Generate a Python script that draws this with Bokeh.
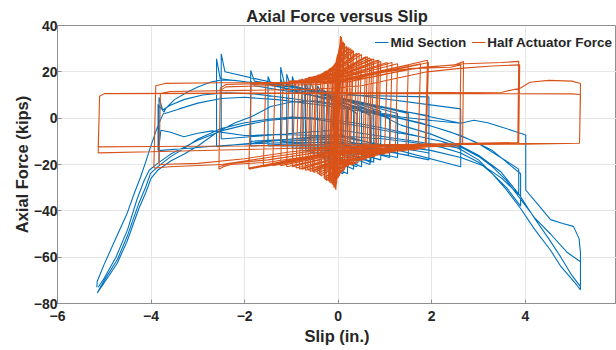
import math
from bokeh.plotting import figure
from bokeh.models import FixedTicker, Range1d
from bokeh.embed import file_html
from bokeh.resources import INLINE

nan = float("nan")

# ---------------- data ----------------
x_ticks = [-6, -4, -2, 0, 2, 4]
y_ticks = [-80, -60, -40, -20, 0, 20, 40]

# Half Actuator Force: small / medium cycles, one row per cycle
act_xl   = [-0.05, -0.06, -0.07, -0.09, -0.11, -0.13, -0.14, -0.17, -0.19, -0.21, -0.25, -0.28, -0.3, -0.37, -0.4, -0.44, -0.52, -0.55, -0.6, -0.65, -0.7, -0.77, -0.83, -0.9, -0.98, -1.1, -1.23, -1.4, -1.6, -1.91, -1.91]
act_xr   = [0.05, 0.07, 0.06, 0.08, 0.11, 0.13, 0.14, 0.18, 0.21, 0.23, 0.27, 0.3, 0.33, 0.4, 0.45, 0.5, 0.59, 0.63, 0.68, 0.72, 0.76, 0.84, 0.87, 0.91, 1.05, 1.15, 1.27, 1.5, 1.76, 1.91, 1.93]
act_d    = [0.09, 0.1, 0.1, 0.1, 0.1, 0.1, 0.1, 0.1, 0.09, 0.09, 0.09, 0.08, 0.08, 0.08, 0.07, 0.07, 0.07, 0.07, 0.07, 0.06, 0.06, 0.06, 0.06, 0.06, 0.06, 0.05, 0.05, 0.05, 0.05, 0.05, 0.05]
act_botL = [-31, -30.5, -30, -30, -29, -28.5, -28, -28, -27.5, -27, -27, -26.5, -26, -25, -24.5, -24, -23.5, -23, -23, -22.5, -22.5, -22, -22, -21.5, -21, -21, -20.5, -20.5, -21, -22, -21.5]
act_topL = [33, 32, 31, 29, 27, 26, 25, 23, 22.5, 22, 21, 21, 20.5, 20, 19.5, 19, 18.5, 18, 18, 17.5, 17.5, 17, 16.5, 16.5, 16, 16, 15.5, 15, 15, 15, 14.5]
act_topM = [nan, nan, nan, nan, nan, 28, 27, 26, 25.5, 25, 24, 23.5, 23, 22, 21.5, 21, 20, 19.5, 19.5, 19, 19, 18.5, 18, 18, 17.5, 17, 17, 16.5, 16, 16, 15.5]
act_topR = [35.5, 35, 35, 34, 33, 32.5, 32, 31, 30.5, 30.5, 30, 29.5, 29, 28, 28, 27.5, 26.5, 26.5, 26, 25.5, 25.5, 25, 25, 24.5, 24, 24, 23.5, 23, 23.5, 25, 24]
act_botR = [-28, -27.5, -27, -26, -25, -24.5, -24, -23, -22.5, -22, -21, -20.5, -20, -20, -19.5, -19, -18, -18, -17.5, -17, -17, -16.5, -16, -16, -15.5, -15, -14.5, -14, -13.5, -13, -12.5]
act_botM = [nan, nan, nan, nan, nan, -25.5, -25, -24, -23.5, -23, -22, -21.5, -21, -20, -19.5, -19, -19, -18.5, -18, -18, -18, -17, -17, -17, -16, -16, -15.5, -15, -15, -14.5, -14]

# Half Actuator Force: large cycles traced point by point (slip, force)
act_big1 = [(-2.55, -22), (-2.52, 13), (-2.4, 14.5), (-1.5, 15), (-0.5, 15.5), (0.3, 17), (1.0, 20), (1.6, 21.5),
            (2.4, 22), (2.62, 23), (2.6, -12), (1.5, -12.5), (0.5, -13.5), (-0.5, -16), (-1.5, -19), (-2.3, -20),
            (-2.45, -21), (-2.55, -22)]
act_big2 = [(-2.55, -21), (-2.52, 12), (-2.4, 13.5), (-1.5, 14), (-0.5, 14.5), (0.3, 16), (1.0, 19), (1.8, 22),
            (2.5, 23), (2.68, 24.5), (2.66, -11.5), (1.5, -12), (0.5, -13), (-0.5, -15), (-1.5, -18), (-2.3, -19.5),
            (-2.55, -21)]
act_big3 = [(-3.94, -21.5), (-3.9, 14), (-3.7, 15), (-2.5, 15.3), (-1, 15.5), (0, 16), (0.8, 18), (1.5, 21),
            (2.2, 22.5), (2.7, 23.5), (3.5, 24), (3.86, 24.5), (3.84, -11), (2, -11.5), (0.5, -12.5), (-0.5, -14),
            (-1.5, -17), (-2.5, -20), (-3.6, -21), (-3.94, -21.5)]
act_big4 = [(-3.83, -20), (-3.8, 10.5), (-3.6, 11.5), (-2, 12), (-0.5, 12.5), (0.5, 14), (1.2, 17), (1.9, 20),
            (2.6, 21.5), (3.3, 22.5), (3.88, 23), (3.86, -10.5), (2.5, -11), (1, -11.5), (0, -12.5), (-1, -14.5),
            (-2, -17.5), (-3, -19.5), (-3.83, -20)]
act_big5 = [(-5.13, -15), (-5.1, 9.5), (-5.0, 10.6), (-2, 10.8), (1, 11), (3.5, 11.2), (3.9, 13), (4.1, 15.5),
            (4.5, 16.3), (5.0, 16), (5.18, 15), (5.16, -10.8), (4, -11.2), (2, -11.5), (0, -12.5), (-2, -13.5),
            (-4, -14.5), (-5.13, -15)]
act_big6 = [(-5.13, -12.4), (-5.1, 9.5), (-5.0, 10.6), (-2, 10.7), (1, 10.6), (3, 10.6), (5.0, 10.5), (5.18, 10.2),
            (5.16, -10.8), (4, -11), (2, -11.3), (0, -11.5), (-2, -12), (-4, -12.2), (-5.13, -12.4)]

# Mid Section: smaller cycles, one row per cycle
mid_xl   = [-0.1, -0.2, -0.3, -0.35, -0.44, -0.6, -0.7, -0.77, -0.98, -1.1, -1.23, -1.23, -1.5, -1.87, -1.87, -2.6, -2.5]
mid_xr   = [0.1, 0.2, 0.33, 0.4, 0.5, 0.68, 0.7, 0.76, 0.91, 1.1, 1.27, 1.27, 1.5, 1.94, 1.94, 2.62, 2.62]
mid_botL = [-22, -20, -18, -17, -16, -15, -14, -14, -13, -12, -12, -10, -12, -12, -10, -12.3, -9]
mid_peak = [8, 10, 12, 13, 14, 16, 15, 17, 18, 19, 22, 17, 18, 20.6, 16, 25.6, 27.8]
mid_topL = [6, 8, 9, 10, 11, 12, 12, 13, 13, 14, 15, 13, 14, 16, 14, 17, 20]
mid_topM = [5, 6, 7, 7, 8, 8, 8, 9, 9, 9, 9, 7, 9, 10, 8, 11, 9]
mid_topR = [4, 4, 3, 2, 3, 2, 1, 4, 3, 0, 2, 0, 2, 9.2, 1, 4, -2.2]
mid_botR = [-24, -24, -22, -21, -21, -20, -19, -19, -18, -17, -17, -15, -16, -18, -15, -21, -13]
mid_botM = [-23, -22, -19, -18, -17, -15, -14, -14, -13, -11, -12, -9, -11, -10, -8, -7, -5]

# Mid Section: large cycles traced point by point (slip, force)
mid_c14 = [(-3.83, -19.5), (-3.83, 9), (-3.75, 3.5), (-3.6, 5.5), (-3.3, 8), (-2.9, 10), (-2.4, 11), (-1.8, 10.5),
           (-1.0, 8.5), (0, 5.5), (1.0, 1.5), (1.76, -2), (2.4, -6), (2.9, -10), (3.3, -14), (3.6, -19), (3.9, -24),
           (3.9, -38), (3.6, -30), (3.3, -24), (3.0, -19), (2.62, -15), (2.2, -12.5), (1.6, -10.5), (1.0, -9),
           (0.3, -8), (-0.5, -7.5), (-1.2, -7), (-2.0, -7.5), (-2.7, -5.5), (-3.0, -6.5), (-3.3, -8), (-3.6, -6),
           (-3.79, -5.2), (-3.83, -12)]
mid_c15 = [(-3.85, -14), (-3.85, 6), (-3.7, 2), (-3.4, 4), (-3.0, 6.5), (-2.5, 8.5), (-2.0, 9), (-1.3, 8),
           (-0.5, 6), (0.5, 3), (1.3, 0), (2.0, -3.5), (2.62, -7.5), (3.0, -11), (3.4, -16), (3.86, -22),
           (3.86, -33), (3.5, -26), (3.1, -20.5), (2.62, -17), (2.0, -14), (1.3, -12), (0.5, -11), (-0.3, -10.5),
           (-1.0, -10.5), (-1.8, -11), (-2.6, -12), (-3.2, -13), (-3.85, -14)]
mid_out1 = [(-5.16, -73), (-5.15, -70.4), (-5.0, -63), (-4.86, -56.7), (-4.6, -45), (-4.51, -41), (-4.35, -32),
            (-4.22, -25.2), (-4.1, -18), (-4.01, -12.3), (-3.85, -3), (-3.69, 4.1), (-3.5, 8), (-3.22, 11.3),
            (-3.0, 13.5), (-2.72, 15.6), (-2.5, 16.5), (-2.22, 16.3), (-1.9, 15.5), (-1.44, 14.5), (-1.0, 12),
            (-0.5, 9.5), (0.0, 7), (0.5, 4.5), (1.0, 2), (1.34, 0.5), (2.0, -1), (2.62, -2.2), (2.9, -0.9),
            (3.2, -2), (3.47, -3.7), (3.75, -5.5), (4.01, -7.3), (4.01, -31), (4.3, -38), (4.54, -43.8),
            (4.8, -45.5), (5.03, -46.7), (5.15, -52), (5.18, -58.3), (5.18, -74.1)]
mid_ret1 = [(5.18, -74.1), (5.1, -72), (4.76, -64), (4.54, -57), (4.2, -48), (3.9, -39), (3.6, -31), (3.3, -24),
            (3.0, -18), (2.62, -13.5), (2.2, -10), (1.76, -8), (1.34, -6), (0.9, -4), (0.5, -2.5), (0, -1),
            (-0.5, 0), (-1.0, 0.5), (-1.5, -0.5), (-2.0, -2), (-2.5, -4.5), (-3.0, -9), (-3.29, -13),
            (-3.58, -16.6), (-3.86, -21), (-4.01, -23.8), (-4.11, -29.5), (-4.26, -36.7), (-4.51, -51),
            (-4.72, -61), (-5.0, -70), (-5.15, -75.4)]
mid_out2 = [(-5.15, -75.4), (-4.9, -68), (-4.72, -62.5), (-4.51, -53), (-4.26, -39), (-4.11, -32), (-4.0, -26),
            (-3.86, -22.5), (-3.58, -18.5), (-3.29, -15.5), (-3.0, -12), (-2.58, -6), (-2.2, -2), (-1.87, 0.5),
            (-1.44, 5), (-1.0, 7), (-0.5, 7.5), (0, 6), (0.5, 3.5), (1.0, 0.5), (1.34, -3), (2.0, -7),
            (2.62, -12), (3.0, -16), (3.47, -23), (3.87, -33), (4.19, -43), (4.5, -52), (4.76, -60), (5.0, -68),
            (5.18, -72.7)]
mid_ret2 = [(5.18, -72.7), (5.18, -62), (4.9, -58), (4.54, -50), (4.2, -43), (3.9, -35), (3.6, -27), (3.3, -21),
            (3.0, -16.5), (2.62, -12.5), (2.2, -10), (1.76, -8), (1.34, -6.5), (0.9, -5), (0.5, -3.5), (0, -2),
            (-0.5, -0.5), (-1.0, 0), (-1.5, -1), (-2.0, -3), (-2.5, -5.5), (-3.0, -9.5), (-3.29, -12.5),
            (-3.58, -15.5), (-3.86, -19.5), (-4.04, -22.5), (-4.15, -27), (-4.3, -35), (-4.5, -48), (-4.75, -60),
            (-5.0, -69), (-5.13, -73)]

# ---------------- build paths ----------------
def add_branch(xs, ys, branch):
    xs += [p[0] for p in branch] + [nan]
    ys += [p[1] for p in branch] + [nan]

def actuator_path():
    xs, ys = [], []
    for i in range(len(act_xl)):
        xl, xr, d = act_xl[i], act_xr[i], act_d[i]
        pts = [(xl, act_botL[i]), (xl + d, act_topL[i])]
        if not math.isnan(act_topM[i]):
            pts.append((0, act_topM[i]))
        pts += [(xr, act_topR[i]), (xr - d, act_botR[i])]
        if not math.isnan(act_botM[i]):
            pts.append((0, act_botM[i]))
        pts.append((xl, act_botL[i]))
        add_branch(xs, ys, pts)
    for branch in (act_big1, act_big2, act_big3, act_big4, act_big5, act_big6):
        add_branch(xs, ys, branch)
    return xs, ys

SPIKE = 0.08

def mid_path():
    xs, ys = [], []
    for i in range(len(mid_xl)):
        xl, xr = mid_xl[i], mid_xr[i]
        pts = [(xl, mid_botL[i]), (xl, mid_peak[i]), (xl + SPIKE, mid_topL[i]), (0, mid_topM[i]),
               (xr, mid_topR[i]), (xr, mid_botR[i]), (0, mid_botM[i]), (xl, mid_botL[i])]
        add_branch(xs, ys, pts)
    for branch in (mid_c14, mid_c15, mid_out1, mid_ret1, mid_out2, mid_ret2):
        add_branch(xs, ys, branch)
    return xs, ys

mx, my = mid_path()
ax, ay = actuator_path()

# ---------------- figure ----------------
FONT = "Liberation Sans"
TXT = "#262626"
AXC = "#8f8f8f"

p = figure(width=616, height=350, x_range=Range1d(-6, 5.95), y_range=Range1d(-80, 40),
           output_backend="svg", toolbar_location=None,
           min_border_left=57, min_border_right=0, min_border_top=25, min_border_bottom=47)

p.title.text = "Axial Force versus Slip"
p.title.align = "center"
p.title.text_font = FONT
p.title.text_font_size = "16.5px"
p.title.text_font_style = "bold"
p.title.text_color = TXT
p.title.standoff = 2

p.line(mx, my, color="#0072BD", line_width=1.1, legend_label="Mid Section")
p.line(ax, ay, color="#D95319", line_width=1.1, legend_label="Half Actuator Force")

p.xaxis.ticker = FixedTicker(ticks=x_ticks)
p.yaxis.ticker = FixedTicker(ticks=y_ticks)
p.xaxis.axis_label = "Slip (in.)"
p.yaxis.axis_label = "Axial Force (kips)"

for ax_ in (p.xaxis[0], p.yaxis[0]):
    ax_.major_label_text_font = FONT
    ax_.major_label_text_font_size = "14px"
    ax_.major_label_text_font_style = "bold"
    ax_.major_label_text_color = TXT
    ax_.axis_label_text_font = FONT
    ax_.axis_label_text_font_size = "16.5px"
    ax_.axis_label_text_font_style = "bold"
    ax_.axis_label_text_color = TXT
    ax_.axis_line_color = AXC
    ax_.major_tick_line_color = AXC
    ax_.major_tick_in = 4
    ax_.major_tick_out = 0
    ax_.minor_tick_line_color = None

p.xaxis.major_label_standoff = 7
p.xaxis.axis_label_standoff = 3
p.yaxis.major_label_standoff = 0
p.yaxis.axis_label_standoff = 0

p.outline_line_color = AXC
p.grid.grid_line_color = "#e6e6e6"
p.background_fill_color = "white"

lg = p.legend[0]
lg.location = "top_right"
lg.orientation = "horizontal"
lg.border_line_alpha = 0
lg.background_fill_alpha = 0
lg.label_text_font = FONT
lg.label_text_font_size = "13.5px"
lg.label_text_font_style = "bold"
lg.label_text_color = TXT
lg.glyph_width = 14
lg.glyph_height = 14
lg.label_height = 26
lg.label_standoff = 2
lg.spacing = 5
lg.padding = 2
lg.margin = 2

open("out.html", "w").write(file_html(p, INLINE))
